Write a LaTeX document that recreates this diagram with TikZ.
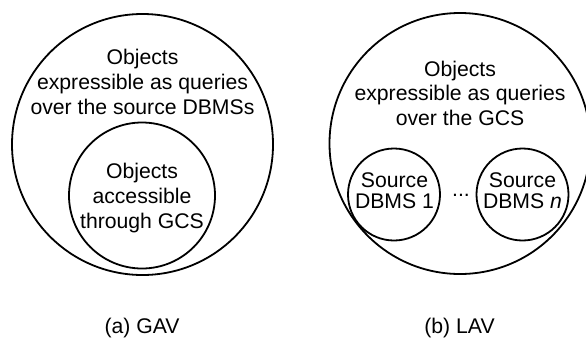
\documentclass[tikz,border=0pt]{standalone}
\usepackage{fontspec}
\setmainfont{Liberation Sans}
\begin{document}
\begin{tikzpicture}[x=1pt,y=-1pt,
  ring/.style={draw, circle, line width=1.8pt, inner sep=0pt},
  txt/.style={anchor=base, inner sep=0pt, font=\fontsize{21.2}{25}\selectfont}]
\useasboundingbox (0,0) rectangle (586,338);
% GAV
\node[ring, minimum size=261pt] (gavouter) at (142.5,144.5) {};
\node[ring, minimum size=146pt] (gavinner) at (142,195.5) {};
\node[txt] (g1) at (142.5,64.5) {Objects};
\node[txt] (g2) at (142.5,89.5) {expressible as queries};
\node[txt] (g3) at (142.5,114.5) {over the source DBMSs};
\node[txt] (g4) at (142,178.5) {Objects};
\node[txt] (g5) at (142,203.5) {accessible};
\node[txt] (g6) at (142,228.5) {through GCS};
\node[txt] (gcap) at (142,333) {(a) GAV};
% LAV
\node[ring, minimum size=261pt] (lavouter) at (460,143.5) {};
\node[ring, minimum size=92pt] (src1) at (394,194.5) {};
\node[ring, minimum size=92pt] (srcn) at (522.5,194.5) {};
\node[txt] (l1) at (460,76) {Objects};
\node[txt] (l2) at (460,100.5) {expressible as queries};
\node[txt] (l3) at (460,125) {over the GCS};
\node[txt] (s1a) at (394.5,187.5) {Source};
\node[txt] (s1b) at (394.5,208.5) {DBMS 1};
\node[txt] (sna) at (522.5,187.5) {Source};
\node[txt] (snb) at (522.5,208.5) {DBMS \textit{n}};
\node[txt] (dots) at (461,196) {...};
\node[txt] (lcap) at (459.5,333) {(b) LAV};
\end{tikzpicture}
\end{document}
